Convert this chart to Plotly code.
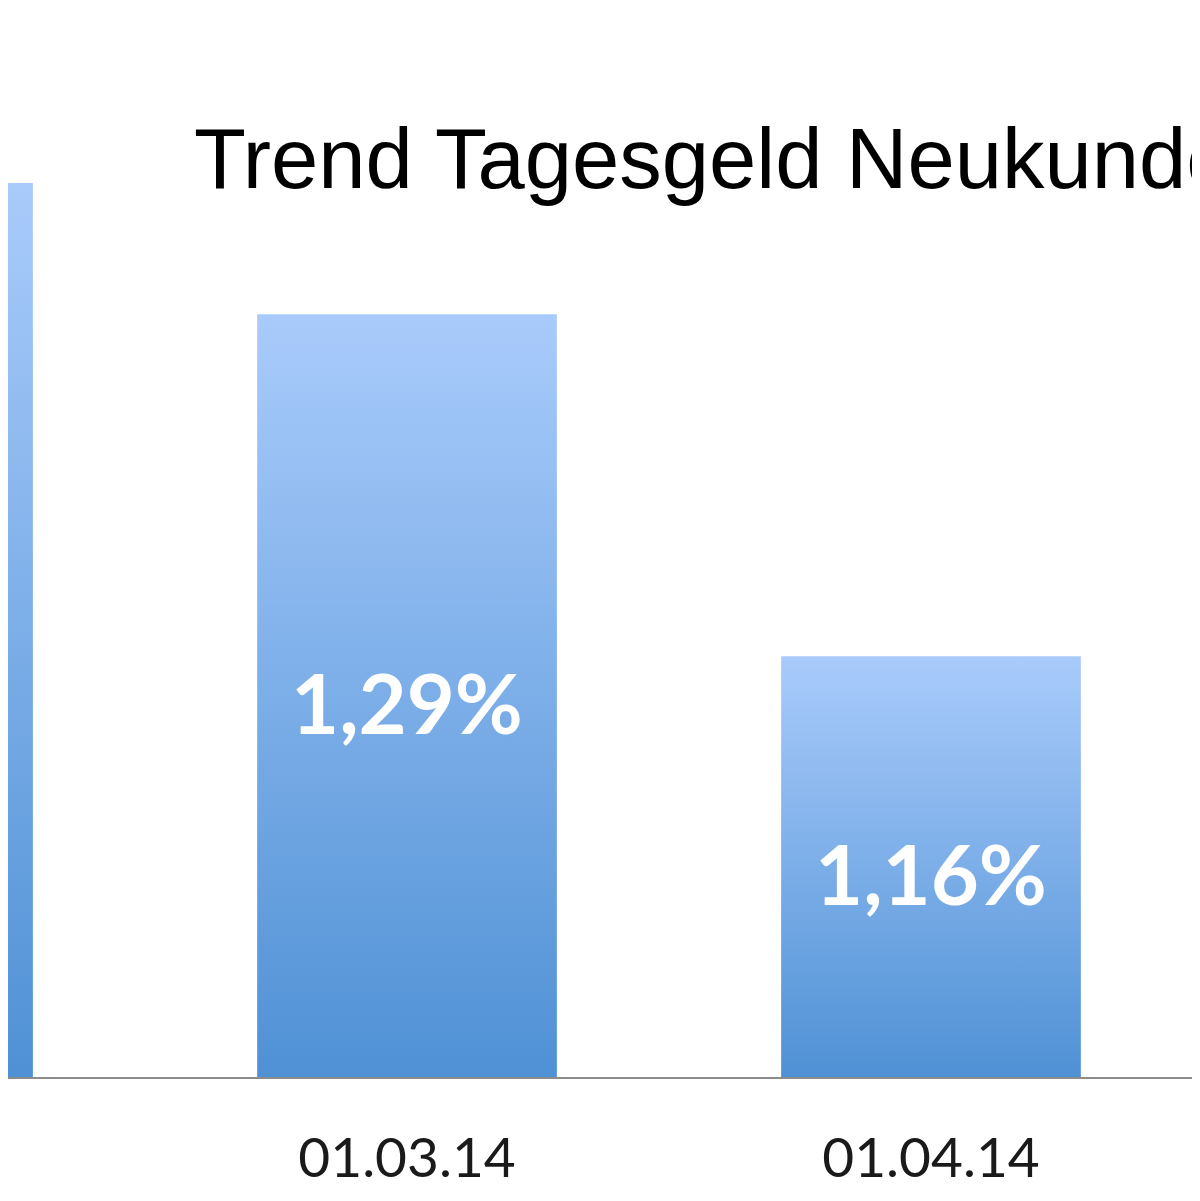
import plotly.graph_objects as go

# data (left and right bars are cut off in the picture)
dates = ["01.02.14", "01.03.14", "01.04.14", "01.05.14"]
rates = [1.34, 1.29, 1.16, 1.10]
labels = ["1,34%", "1,29%", "1,16%", "1,10%"]

Y_MIN = 1.0
BAR_HALF = 0.286
TOP_COLOR = "#A9CBFB"
BOTTOM_COLOR = "#4F91D5"

fig = go.Figure()

for i, (d, v) in enumerate(zip(dates, rates)):
    fig.add_trace(go.Scatter(
        x=[i - BAR_HALF, i + BAR_HALF],
        y=[v, v],
        mode="none",
        fill="tozeroy",
        fillgradient=dict(
            type="vertical",
            colorscale=[[0, BOTTOM_COLOR], [1, TOP_COLOR]],
            start=Y_MIN,
            stop=v,
        ),
        hoverinfo="skip",
        showlegend=False,
    ))
    # value label centered in the bar
    fig.add_annotation(
        x=i, y=(Y_MIN + v) / 2,
        text=labels[i],
        showarrow=False,
        yshift=-6,
        font=dict(family="Lato", size=83, color="white", weight="bold"),
    )

# page has an 8px body margin, so the figure is 8px smaller than the window
fig.update_layout(
    width=1192,
    height=1193,
    margin=dict(l=0, r=0, t=0, b=124),
    plot_bgcolor="white",
    paper_bgcolor="white",
    title=dict(
        text="Trend Tagesgeld Neukunden",
        font=dict(family="Liberation Sans", size=85, color="black"),
        xref="container", yref="container",
        x=186 / 1192, xanchor="left",
        y=1 - 150 / 1193, yanchor="middle",
    ),
    xaxis=dict(
        range=[0.2385, 2.5134],
        tickvals=list(range(len(dates))),
        ticktext=dates,
        showgrid=False,
        zeroline=False,
        showline=True,
        linecolor="#8c8c8c",
        linewidth=2,
        ticks="",
        tickfont=dict(family="Lato", size=55, color="#1a1a1a"),
        ticklabelstandoff=32,
    ),
    yaxis=dict(
        range=[Y_MIN, 1.4065],
        visible=False,
        showgrid=False,
    ),
)

fig.write_html("out.html")
